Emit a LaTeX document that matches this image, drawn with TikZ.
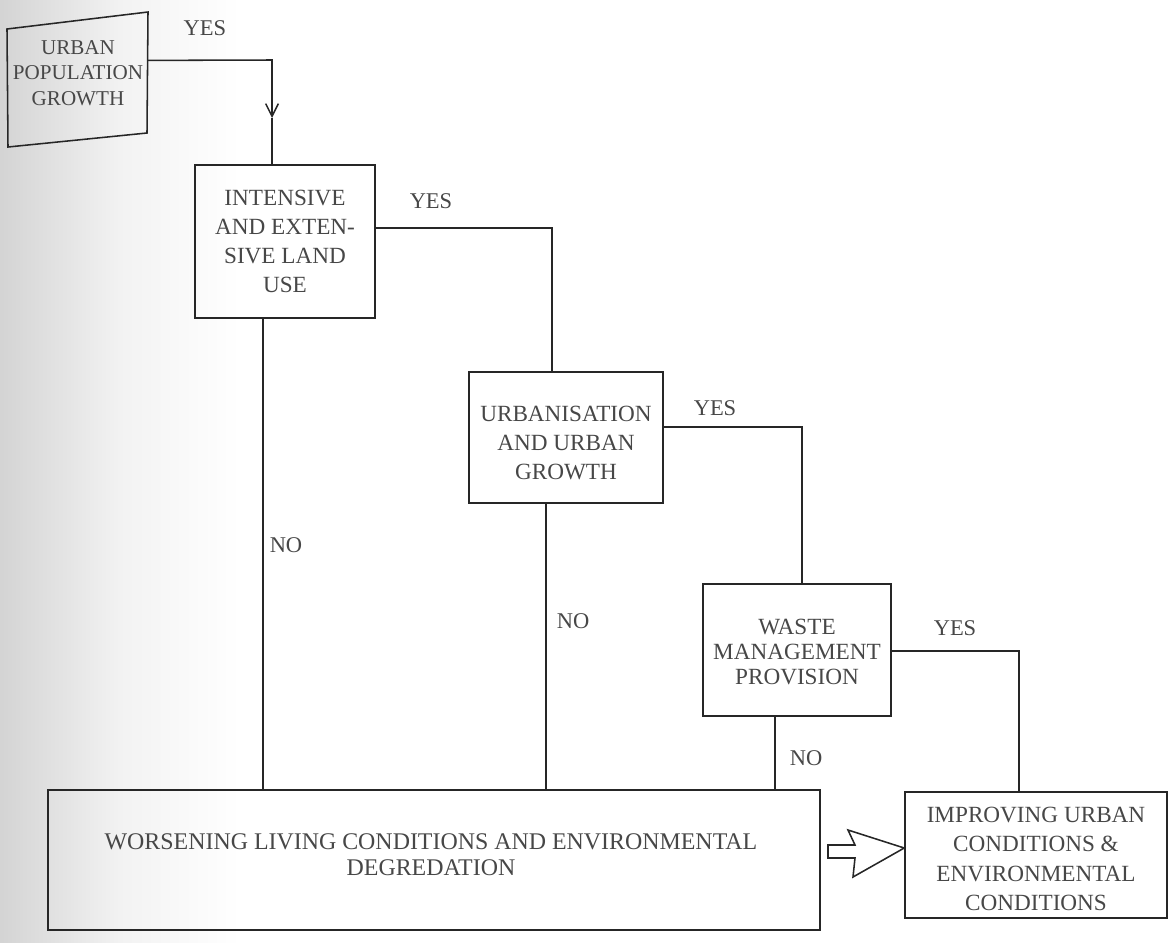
\documentclass[tikz,border=0pt]{standalone}
\usepackage{fontspec}
\setmainfont{Liberation Serif}
\usetikzlibrary{arrows.meta,calc}
\begin{document}
\begin{tikzpicture}[x=0.025cm,y=-0.025cm,
  line width=1.1pt,
  every node/.style={text=black!72},
  box/.style={draw=black!85, rectangle, align=center, inner sep=2pt,
    font=\fontsize{16.5}{20.8}\selectfont},
  txt/.style={align=center, inner sep=0pt, font=\fontsize{16.5}{20.8}\selectfont},
  lbl/.style={font=\fontsize{16}{19}\selectfont, inner sep=0pt},
  conn/.style={draw=black!85}]
\useasboundingbox (0,0) rectangle (1171,942);
% scan shadow along the left edge
\shade[left color=black!17, right color=white, middle color=black!5, draw=none] (0,0) rectangle (240,942);
% skewed first box
\coordinate (q1) at (7,29);
\coordinate (q2) at (148,12);
\coordinate (q3) at (147,133);
\coordinate (q4) at (8,147);
\draw[conn, line join=miter] (q1) -- (q2) -- (q3) -- (q4) -- cycle;
\node[txt, font=\fontsize{15}{18}\selectfont] (b1) at (78,73) {URBAN\\POPULATION\\GROWTH};
% boxes
\node[box, minimum width=180*0.025cm, minimum height=153*0.025cm] (b2) at (285,241.5)
  {INTENSIVE\\AND EXTEN-\\SIVE LAND\\USE};
\node[box, minimum width=194*0.025cm, minimum height=131*0.025cm] (b3) at (566,437.5) {};
\node[txt] (t3) at (566,443) {URBANISATION\\AND URBAN\\GROWTH};
\node[box, minimum width=188*0.025cm, minimum height=132*0.025cm] (b4) at (797,650) {};
\node[txt, font=\fontsize{16.5}{17.5}\selectfont] (t4) at (797,652) {WASTE\\MANAGEMENT\\PROVISION};
\node[box, minimum width=772*0.025cm, minimum height=140*0.025cm] (b5) at (434,860) {};
\node[txt, font=\fontsize{17}{18.5}\selectfont] (t5) at (431,855)
  {WORSENING LIVING CONDITIONS AND ENVIRONMENTAL\\DEGREDATION};
\node[box, minimum width=262*0.025cm, minimum height=126*0.025cm] (b6) at (1036,855) {};
\node[txt] (t6) at (1036,859) {IMPROVING URBAN\\CONDITIONS \&\\ENVIRONMENTAL\\CONDITIONS};
% corner coordinates
\coordinate (e1) at ($(q2)!0.4!(q3)$);
\coordinate (c1) at (272,60);
\coordinate (a1) at (272,118);
\coordinate (c2) at (552,228);
\coordinate (c3) at (802,427);
\coordinate (c4) at (1019,651);
\coordinate (k2) at (263,790);
\coordinate (k3) at (546,790);
\coordinate (k4) at (775,790);
% YES connectors
\draw[conn, -{Straight Barb[length=9pt,width=9pt]}] (e1) -- (c1) -- (a1);
\draw[conn] (a1) -- (b2.north -| a1);
\draw[conn] (b2.east |- c2) -- (c2) -- (b3.north -| c2);
\draw[conn] (b3.east |- c3) -- (c3) -- (b4.north -| c3);
\draw[conn] (b4.east |- c4) -- (c4) -- (b6.north -| c4);
% NO connectors
\draw[conn] (b2.south -| k2) -- (b5.north -| k2);
\draw[conn] (b3.south -| k3) -- (b5.north -| k3);
\draw[conn] (b4.south -| k4) -- (b5.north -| k4);
% labels
\node[lbl] (y1) at (205,28) {YES};
\node[lbl] (y2) at (431,201) {YES};
\node[lbl] (y3) at (715,408) {YES};
\node[lbl] (y4) at (955,628) {YES};
\node[lbl] (n1) at (286,545) {NO};
\node[lbl] (n2) at (573,621) {NO};
\node[lbl] (n3) at (806,758) {NO};
% hollow block arrow between b5 and b6
\coordinate (h0) at (828,845);
\draw[conn, line join=miter] (h0) -- (855,845) -- (848,830) -- (b6.west |- 0,848)
  -- (853,877) -- (855,858) -- (828,858) -- cycle;
\end{tikzpicture}
\end{document}
